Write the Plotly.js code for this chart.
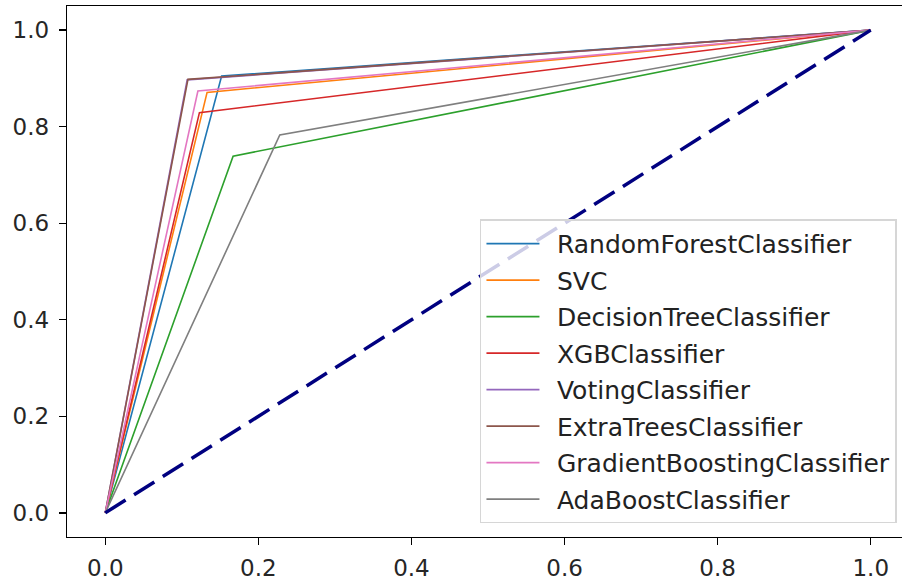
<!DOCTYPE html>
<html>
<head>
<meta charset="utf-8">
<script src="https://cdn.plot.ly/plotly-3.0.1.min.js"></script>
<style>
html, body { margin: 0; padding: 0; overflow: hidden; background: #fff; }
#chart { width: 912px; height: 584px; }
</style>
</head>
<body>
<div id="chart"></div>
<script>
const models = ["RandomForestClassifier", "SVC", "DecisionTreeClassifier", "XGBClassifier",
  "VotingClassifier", "ExtraTreesClassifier", "GradientBoostingClassifier", "AdaBoostClassifier"];
const colors = ["#1f77b4", "#ff7f0e", "#2ca02c", "#d62728", "#9467bd", "#8c564b", "#e377c2", "#7f7f7f"];
const fprRF = [0, 0.152, 1];   const tprRF = [0, 0.905, 1];
const fprSVC = [0, 0.133, 1];  const tprSVC = [0, 0.871, 1];
const fprDT = [0, 0.167, 1];   const tprDT = [0, 0.739, 1];
const fprXGB = [0, 0.123, 1];  const tprXGB = [0, 0.829, 1];
const fprVot = [0, 0.107, 1];  const tprVot = [0, 0.897, 1];
const fprET = [0, 0.108, 1];   const tprET = [0, 0.898, 1];
const fprGB = [0, 0.121, 1];   const tprGB = [0, 0.874, 1];
const fprAda = [0, 0.228, 1];  const tprAda = [0, 0.783, 1];
const diagX = [0, 1];
const diagY = [0, 1];
const tickVals = [0, 0.2, 0.4, 0.6, 0.8, 1.0];
const tickText = ["0.0", "0.2", "0.4", "0.6", "0.8", "1.0"];

const fprs = [fprRF, fprSVC, fprDT, fprXGB, fprVot, fprET, fprGB, fprAda];
const tprs = [tprRF, tprSVC, tprDT, tprXGB, tprVot, tprET, tprGB, tprAda];

const traces = models.map((m, i) => ({
  x: fprs[i], y: tprs[i], type: "scatter", mode: "lines", name: "\u2002" + m,
  legendgroup: "g" + i,
  line: { color: colors[i], width: 1.6 }
}));
traces.push({
  x: diagX, y: diagY, type: "scatter", mode: "lines", showlegend: false,
  line: { color: "#000080", width: 3.5, dash: "24px,10px" }
});

const axisCommon = {
  tickvals: tickVals, ticktext: tickText,
  ticks: "outside", ticklen: 7, tickwidth: 1.3, tickcolor: "#000",
  showline: true, linecolor: "#000", linewidth: 1.3, mirror: true,
  showgrid: false, zeroline: false,
  tickfont: { family: "DejaVu Sans", size: 23, color: "#262626" }
};

const layout = {
  width: 912, height: 584,
  margin: { l: 67, r: 3, t: 6, b: 47 },
  paper_bgcolor: "#fff", plot_bgcolor: "#fff",
  xaxis: Object.assign({}, axisCommon, { range: [-0.05, 1.05], ticklabelstandoff: 3 }),
  yaxis: Object.assign({}, axisCommon, { range: [-0.05, 1.05], ticklabelstandoff: 5 }),
  showlegend: true,
  legend: {
    x: 0.9857, y: 0.0256, xanchor: "right", yanchor: "bottom",
    bgcolor: "rgba(255,255,255,0.8)", bordercolor: "#d6d6d6", borderwidth: 1.5,
    font: { family: "DejaVu Sans", size: 25, color: "#222" },
    traceorder: "grouped", tracegroupgap: 1, itemwidth: 53
  }
};

Plotly.newPlot("chart", traces, layout, { displayModeBar: false, staticPlot: true });
</script>
</body>
</html>
